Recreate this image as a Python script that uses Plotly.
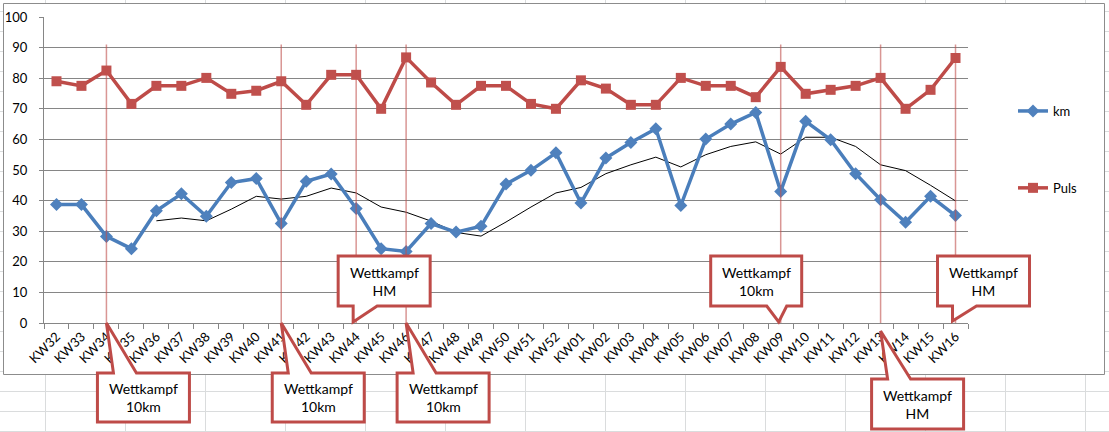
import plotly.graph_objects as go

# ---------------- data ----------------
weeks = ["KW32", "KW33", "KW34", "KW35", "KW36", "KW37", "KW38", "KW39", "KW40",
         "KW41", "KW42", "KW43", "KW44", "KW45", "KW46", "KW47", "KW48", "KW49",
         "KW50", "KW51", "KW52", "KW01", "KW02", "KW03", "KW04", "KW05", "KW06",
         "KW07", "KW08", "KW09", "KW10", "KW11", "KW12", "KW13", "KW14", "KW15", "KW16"]

km = [38.7, 38.7, 28.3, 24.3, 36.7, 42.2, 34.9, 45.9, 47.2, 32.5, 46.3, 48.7, 37.4,
      24.3, 23.4, 32.5, 29.7, 31.6, 45.4, 49.9, 55.6, 39.2, 53.9, 59.0, 63.5, 38.4,
      60.1, 65.0, 68.8, 43.0, 65.9, 59.9, 48.8, 40.3, 32.9, 41.4, 35.1]

puls = [79.0, 77.5, 82.5, 71.6, 77.5, 77.5, 80.1, 74.9, 75.9, 79.0, 71.3, 81.1, 81.1,
        70.0, 86.8, 78.6, 71.3, 77.5, 77.5, 71.6, 70.0, 79.3, 76.6, 71.3, 71.3, 80.1,
        77.5, 77.5, 73.8, 83.7, 74.9, 76.2, 77.5, 80.1, 70.0, 76.2, 86.6]

km_trend = [None, None, None, None, 33.4, 34.3, 33.4, 37.2, 41.4, 40.5, 41.4, 44.1, 42.5,
            37.9, 36.2, 33.3, 29.6, 28.4, 33.0, 37.9, 42.5, 44.3, 48.8, 51.7, 54.2, 51.0,
            55.0, 57.7, 59.2, 55.2, 60.7, 60.7, 57.7, 51.7, 49.8, 45.0, 39.9]

event_weeks = ["KW34", "KW41", "KW44", "KW46", "KW09", "KW13", "KW16"]
event_texts = ["Wettkampf<br>10km", "Wettkampf<br>10km", "Wettkampf<br>HM",
               "Wettkampf<br>10km", "Wettkampf<br>10km", "Wettkampf<br>HM",
               "Wettkampf<br>HM"]
event_line_top = 91

# ---------------- layout geometry ----------------
W, H = 1109, 432
L, T = 44, 17
R, B = W - 968, H - 323
PW, PH = W - L - R, H - T - B


def fx(px):
    return (px - L) / PW


def fy(py):
    return (H - B - py) / PH


def cat_frac(wk):
    # paper fraction of a category centre on the category axis
    return (weeks.index(wk) + 0.5) / len(weeks)


FONT = "Lato, 'Open Sans', sans-serif"
RED_LINE = "#be4b48"
RED_MARK = "#c0504d"
BLUE_LINE = "#4a7ebb"
BLUE_MARK = "#4f81bd"
GRID = "#868686"

# callout geometry in pixels relative to (event week, y=0):
# (left, right, near_edge, far_edge, wedge_left, wedge_right, tip_x, tip_y)
callout_geo = [
    (-9, 83, -50, -99, 7, 30, 0, 0),
    (-9, 83, -50, -99, 7, 30, 0, 0),
    (-18, 74, 17, 67, -3, 21, -3, 1),
    (-9, 83, -50, -99, 7, 30, 0, 0),
    (-70, 21, 17, 67, -14, 6, -2, 1),
    (-9, 83, -56, -106, 7, 30, 0, -8),
    (-18, 74, 17, 67, -3, 21, -3, 2),
]

fig = go.Figure()

fig.add_trace(go.Scatter(
    x=weeks, y=km_trend, mode="lines", line=dict(color="black", width=1),
    showlegend=False, hoverinfo="skip"))
fig.add_trace(go.Scatter(
    x=weeks, y=km, name="km", mode="lines+markers", legendgroup="km",
    line=dict(color=BLUE_LINE, width=3.5),
    marker=dict(symbol="diamond", size=10, color=BLUE_MARK)))
fig.add_trace(go.Scatter(
    x=weeks, y=puls, name="Puls", mode="lines+markers", legendgroup="puls",
    line=dict(color=RED_LINE, width=3.5),
    marker=dict(symbol="square", size=10, color=RED_MARK)))

shapes = []
# spreadsheet grid behind the chart
for k in range(14):
    x = 45.5 + 80 * k
    shapes.append(dict(type="line", xref="paper", yref="paper", layer="below",
                       x0=fx(x), x1=fx(x), y0=fy(0), y1=fy(H),
                       line=dict(color="#dadcdd", width=1)))
for k in range(22):
    y = 11.5 + 20 * k
    shapes.append(dict(type="line", xref="paper", yref="paper", layer="below",
                       x0=fx(0), x1=fx(W), y0=fy(y), y1=fy(y),
                       line=dict(color="#dadcdd", width=1)))
# chart area
shapes.append(dict(type="rect", xref="paper", yref="paper", layer="below",
                   x0=fx(3.5), x1=fx(1104.5), y0=fy(3.5), y1=fy(374.5),
                   fillcolor="white", line=dict(color="#8c8c8c", width=1)))

# event lines
for wk in event_weeks:
    shapes.append(dict(type="line", xref="x", yref="y", x0=wk, x1=wk,
                       y0=0, y1=event_line_top,
                       line=dict(color="rgba(192,80,77,0.6)", width=1.5)))

annotations = []
for wk, txt, g in zip(event_weeks, event_texts, callout_geo):
    l, r, near, far, wl, wr, tx, ty = g
    path = (f"M{wl},{near} L{tx},{ty} L{wr},{near} L{r},{near} L{r},{far} "
            f"L{l},{far} L{l},{near} Z")
    shapes.append(dict(type="path", xref="paper", yref="paper",
                       xsizemode="pixel", ysizemode="pixel",
                       xanchor=cat_frac(wk), yanchor=0, path=path,
                       fillcolor="white", line=dict(color=RED_LINE, width=3)))
    annotations.append(dict(x=wk, y=0, xref="x", yref="y", text=txt,
                            showarrow=False, xshift=(l + r) / 2,
                            yshift=(near + far) / 2,
                            font=dict(family=FONT, size=14, color="black"),
                            align="center"))

fig.update_layout(
    template="none",
    width=W, height=H,
    margin=dict(l=L, r=R, t=T, b=B, pad=0, autoexpand=False),
    paper_bgcolor="white", plot_bgcolor="white",
    font=dict(family=FONT, size=13, color="black"),
    shapes=shapes, annotations=annotations,
    showlegend=True,
    legend=dict(x=fx(1013), y=fy(96), xanchor="left", yanchor="top",
                tracegroupgap=57, font=dict(family=FONT, size=13, color="black"),
                bgcolor="rgba(0,0,0,0)", borderwidth=0),
    xaxis=dict(type="category", range=[-0.5, len(weeks) - 0.5], automargin=False,
               showgrid=False, showline=True, linecolor=GRID, linewidth=1,
               ticks="outside", tickson="boundaries", ticklen=5, tickcolor=GRID,
               tickangle=-45, tickfont=dict(family=FONT, size=13, color="black"),
               zeroline=False),
    yaxis=dict(range=[0, 100], dtick=10, showgrid=True, gridcolor=GRID, automargin=False,
               gridwidth=1, showline=True, linecolor=GRID, linewidth=1,
               ticks="outside", ticklen=4, tickcolor=GRID, zeroline=False,
               ticklabelstandoff=9,
               tickfont=dict(family=FONT, size=13, color="black")),
)

# remove the browser's default 8px page margin so the figure sits at (0, 0)
fig.write_html("out.html", config={"displayModeBar": False},
               post_script="document.body.style.margin='0';")
